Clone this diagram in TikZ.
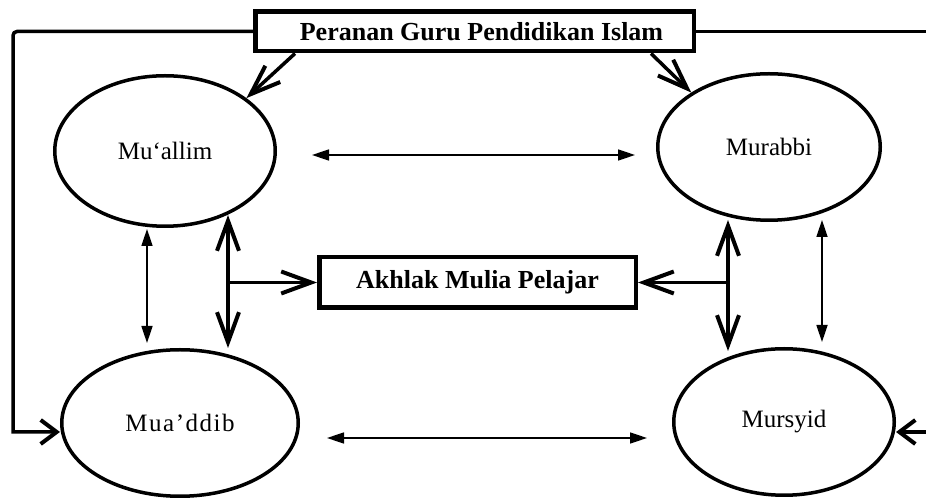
\documentclass[tikz,border=0pt]{standalone}
\usepackage{fontspec}
\setmainfont{Liberation Serif}
\usetikzlibrary{shapes.geometric,arrows.meta}
\tikzset{
  ell/.style={ellipse, draw, line width=3.5pt, inner sep=0pt, font=\fontsize{25}{30}\selectfont},
  bx/.style={rectangle, draw, line width=4.5pt, inner sep=0pt, fill=white, font=\bfseries\fontsize{26}{30}\selectfont},
  thk/.style={line width=3.5pt},
  bigtip/.style={-{Straight Barb[length=30pt,width=22pt,line width=4pt]}},
  bigtips/.style={{Straight Barb[length=30pt,width=22pt,line width=4pt]}-{Straight Barb[length=30pt,width=22pt,line width=4pt]}},
  shorttip/.style={-{Straight Barb[length=16pt,width=24pt,line width=4pt]}},
  thn/.style={line width=1.7pt, {Triangle[length=17pt,width=11pt]}-{Triangle[length=17pt,width=11pt]}}
}
\begin{document}
\begin{tikzpicture}[x=1pt,y=1pt]
\useasboundingbox (0,0) rectangle (926,500);
\clip (0,0) rectangle (926,500);
\fill[white] (0,0) rectangle (926,500);

% nodes
\node[bx, minimum width=438.5pt, minimum height=39.5pt] (top) at (474.5,468.5) {\hspace*{14pt}Peranan Guru Pendidikan Islam};
\node[bx, minimum width=316.5pt, minimum height=50.5pt] (akh) at (477.5,217.5) {Akhlak Mulia Pelajar};
\node[ell, minimum width=220.5pt, minimum height=150.5pt] (ma) at (165,349) {\raisebox{-5pt}{Mu‘allim}};
\node[ell, minimum width=222.5pt, minimum height=146.5pt] (mb) at (769,353) {Murabbi};
\node[ell, minimum width=236.5pt, minimum height=146.5pt] (md) at (180,77) {\addfontfeature{LetterSpace=6}Mua’ddib};
\node[ell, minimum width=220.5pt, minimum height=146.5pt] (ms) at (784,78) {\raisebox{-4pt}{Mursyid}};

% outer loops
\coordinate (lc1) at (13,468.5);
\coordinate (lc2) at (13,68);
\coordinate (rc1) at (932,468.5);
\coordinate (rc2) at (932,68);
\draw[thk, shorttip] (top.west) [rounded corners=4pt] -- (lc1) [sharp corners] -- (lc2) -- ([yshift=-9pt]md.west);
\draw[thk, shorttip] (top.east) -- (rc1) -- (rc2) -- ([yshift=-10pt]ms.east);

% from top box
\draw[thk, bigtip] ([xshift=42pt]top.south west) -- (ma.33);
\draw[thk, bigtip] ([xshift=-45pt]top.south east) -- (mb.145);

% thin horizontal
\draw[thn] ([shift={(35pt,-4pt)}]ma.east) -- ([shift={(-21pt,-8pt)}]mb.west);
\draw[thn] ([shift={(27pt,-15pt)}]md.east) -- ([shift={(-25pt,-16pt)}]ms.west);

% thin vertical
\draw[thn] ([shift={(-18pt,-1pt)}]ma.south) -- ([shift={(-33pt,5pt)}]md.north);
\draw[thn] ([shift={(53pt,2pt)}]mb.south) -- ([shift={(38pt,5pt)}]ms.north);

% thick vertical with branches
\draw[thk, bigtips] ([shift={(63pt,13pt)}]ma.south) -- ([shift={(48pt,0pt)}]md.north);
\coordinate (lj) at (228,217.5);
\draw[thk, bigtip] (lj) -- (akh.west);
\draw[thk, bigtips] ([shift={(-41pt,-0pt)}]mb.south |- 0,280) -- ([shift={(-56pt,-4pt)}]ms.north);
\coordinate (rj) at (728,217.5);
\draw[thk, bigtip] (rj) -- (akh.east);
\end{tikzpicture}
\end{document}
